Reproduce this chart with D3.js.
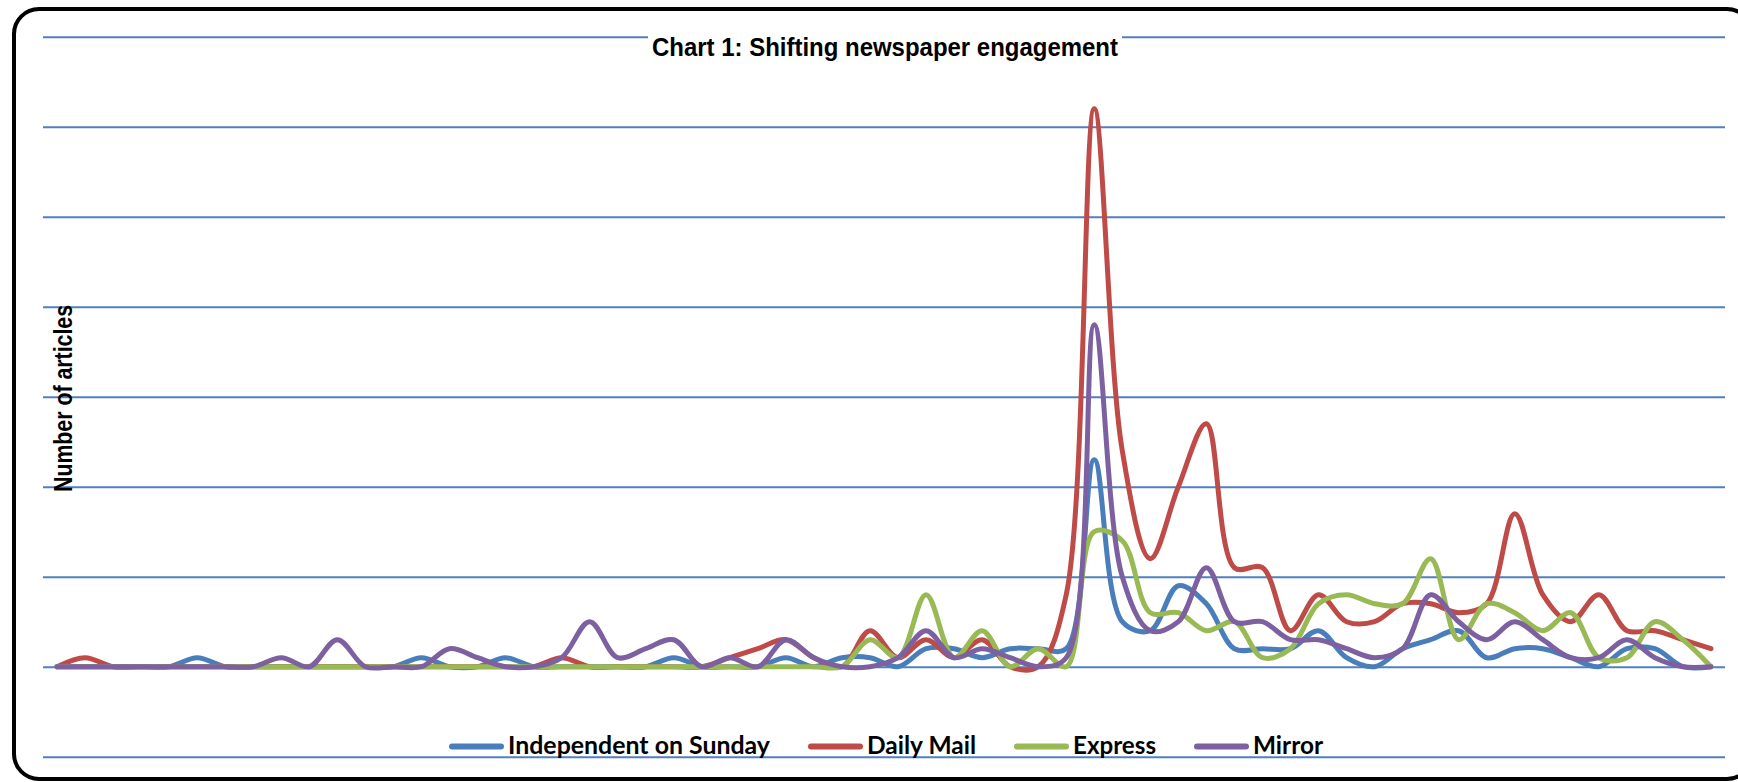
<!DOCTYPE html>
<html>
<head>
<meta charset="utf-8">
<script src="https://cdn.jsdelivr.net/npm/d3@7"></script>
<style>
  body { margin: 0; background: #fff; }
  .narrow { font-family: "Liberation Sans Narrow", "Arial Narrow", "Liberation Sans", Arial, sans-serif; font-weight: bold; font-stretch: condensed; }
  .legend__text { font-family: Lato, "Open Sans", sans-serif; font-weight: bold; }
</style>
</head>
<body>
<script>
const periods = [1, 2, 3, 4, 5, 6, 7, 8, 9, 10, 11, 12, 13, 14, 15, 16, 17, 18, 19, 20,
  21, 22, 23, 24, 25, 26, 27, 28, 29, 30, 31, 32, 33, 34, 35, 36, 37, 38, 39, 40,
  41, 42, 43, 44, 45, 46, 47, 48, 49, 50, 51, 52, 53, 54, 55, 56, 57, 58, 59, 60];

const independent = [0, 0, 0, 0, 0, 1, 0, 0, 0, 0, 0, 0, 0, 1, 0, 0, 1, 0, 0, 0,
  0, 0, 1, 0, 0, 0, 1, 0, 1, 1, 0, 2, 2, 1, 2, 2, 2, 23, 5, 4,
  9, 7, 2, 2, 2, 4, 1, 0, 2, 3, 4, 1, 2, 2, 1, 0, 2, 2, 0, 0];

const dailyMail = [0, 1, 0, 0, 0, 0, 0, 0, 0, 0, 0, 0, 0, 0, 0, 0, 0, 0, 1, 0,
  0, 0, 0, 0, 1, 2, 3, 1, 0, 4, 1, 3, 1, 3, 0, 0, 8, 62, 24, 12,
  20, 27, 11, 11, 4, 8, 5, 5, 7, 7, 6, 7, 17, 8, 5, 8, 4, 4, 3, 2];

const express = [0, 0, 0, 0, 0, 0, 0, 0, 0, 0, 0, 0, 0, 0, 0, 0, 0, 0, 0, 0,
  0, 0, 0, 0, 0, 0, 0, 0, 0, 3, 1, 8, 1, 4, 0, 2, 0, 15, 14, 6,
  6, 4, 5, 1, 2, 7, 8, 7, 7, 12, 3, 7, 6, 4, 6, 1, 1, 5, 3, 0];

const mirror = [0, 0, 0, 0, 0, 0, 0, 0, 1, 0, 3, 0, 0, 0, 2, 1, 0, 0, 1, 5,
  1, 2, 3, 0, 1, 0, 3, 1, 0, 0, 1, 4, 1, 2, 1, 0, 1, 38, 10, 4,
  5, 11, 5, 5, 3, 3, 2, 1, 2, 8, 5, 3, 5, 3, 1, 1, 3, 1, 0, 0];

const seriesNames = ["Independent on Sunday", "Daily Mail", "Express", "Mirror"];
const gridValues = [-10, 0, 10, 20, 30, 40, 50, 60, 70];

const w = 1738;
const h = 782;
const plot = { left: 43, right: 1725, top: 36.7, bottom: 756.7 };
const colors = ["#4a7ebb", "#be4b48", "#98b954", "#7d60a0"];

const series = [independent, dailyMail, express, mirror].map((values, i) => ({
  name: seriesNames[i],
  color: colors[i],
  values: values
}));

const svg = d3.select("body")
  .append("svg")
  .attr("width", w)
  .attr("height", h);

// chart frame
svg.append("rect")
  .attr("x", 14)
  .attr("y", 9)
  .attr("width", 1738)
  .attr("height", 770)
  .attr("rx", 25)
  .attr("ry", 25)
  .style("fill", "#fff")
  .style("stroke", "#000")
  .style("stroke-width", 4);

const xScale = d3.scalePoint()
  .domain(periods)
  .range([plot.left, plot.right])
  .padding(0.5);

const yScale = d3.scaleLinear()
  .domain([d3.min(gridValues), d3.max(gridValues)])
  .range([plot.bottom, plot.top]);

// gridlines
const grid = svg.append("g")
  .attr("transform", `translate(${plot.left}, 0)`)
  .call(d3.axisLeft(yScale)
    .tickValues(gridValues)
    .tickSize(-(plot.right - plot.left))
    .tickFormat(""));
grid.select(".domain").remove();
grid.selectAll(".tick line")
  .style("stroke", "#4f81bd")
  .style("stroke-width", 2);

// smoothed lines, like the spreadsheet's "smoothed line" option
const line = d3.line()
  .x((d, i) => xScale(periods[i]))
  .y((d) => yScale(d))
  .curve(d3.curveCatmullRom.alpha(0.5));

svg.selectAll(".series")
  .data(series)
  .enter()
  .append("path")
  .attr("class", "series")
  .attr("d", (d) => line(d.values))
  .style("fill", "none")
  .style("stroke", (d) => d.color)
  .style("stroke-width", 5)
  .style("stroke-linejoin", "round")
  .style("stroke-linecap", "round");

// title
svg.append("rect")
  .attr("x", 648)
  .attr("y", 31)
  .attr("width", 474)
  .attr("height", 32)
  .style("fill", "#fff");

svg.append("text")
  .attr("class", "narrow")
  .attr("x", 885)
  .attr("y", 56)
  .attr("text-anchor", "middle")
  .attr("textLength", 466)
  .attr("lengthAdjust", "spacingAndGlyphs")
  .style("font-size", "26px")
  .text("Chart 1: Shifting newspaper engagement");

svg.append("text")
  .attr("class", "narrow")
  .attr("text-anchor", "middle")
  .attr("transform", "translate(72, 398.5)rotate(-90)")
  .attr("textLength", 187)
  .attr("lengthAdjust", "spacingAndGlyphs")
  .style("font-size", "26px")
  .text("Number of articles");

// legend
const legendWidths = [262, 109, 83, 70];
const swatchLen = 55;
let lx = 449;
series.forEach((s, i) => {
  const g = svg.append("g").attr("class", "legend");
  g.append("line")
    .attr("x1", lx + 3)
    .attr("x2", lx + swatchLen - 3)
    .attr("y1", 746.5)
    .attr("y2", 746.5)
    .style("stroke", s.color)
    .style("stroke-width", 6)
    .style("stroke-linecap", "round");
  g.append("text")
    .attr("class", "legend__text")
    .attr("x", lx + swatchLen + 4)
    .attr("y", 754)
    .attr("textLength", legendWidths[i])
    .attr("lengthAdjust", "spacingAndGlyphs")
    .style("font-size", "24px")
    .text(s.name);
  lx += swatchLen + 4 + legendWidths[i] + 38;
});
</script>
</body>
</html>
